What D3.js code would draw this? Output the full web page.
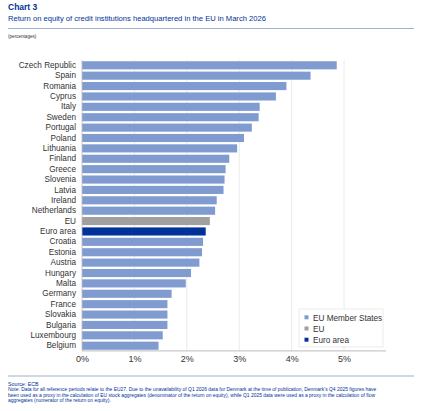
<!DOCTYPE html>
<html><head><meta charset="utf-8">
<script src="https://cdn.jsdelivr.net/npm/d3@7/dist/d3.min.js"></script>
<style>body{margin:0;background:#fff}svg{display:block;font-family:"Liberation Sans",Arial,sans-serif}</style>
</head><body><div id="c"></div>
<script>
const categories = ["Czech Republic","Spain","Romania","Cyprus","Italy","Sweden","Portugal","Poland","Lithuania","Finland","Greece","Slovenia","Latvia","Ireland","Netherlands","EU","Euro area","Croatia","Estonia","Austria","Hungary","Malta","Germany","France","Slovakia","Bulgaria","Luxembourg","Belgium"];
const values = [4.86,4.36,3.90,3.70,3.39,3.37,3.24,3.09,2.96,2.81,2.74,2.72,2.70,2.57,2.54,2.44,2.36,2.31,2.29,2.24,2.08,1.98,1.71,1.63,1.63,1.63,1.54,1.46];
const groups = categories.map(c => c==="EU" ? "EU" : (c==="Euro area" ? "Euro area" : "EU Member States"));
const legendLabels = ["EU Member States","EU","Euro area"];
const xTicks = [0,1,2,3,4,5];
const colors = {"EU Member States":"#7f9bd0","EU":"#a0a0a0","Euro area":"#003299"};

const W=422,H=411;
const svg=d3.select("#c").append("svg").attr("width",W).attr("height",H);

svg.append("text").attr("x",8).attr("y",10).attr("font-size",8.5).attr("font-weight","bold").attr("fill","#003299").text("Chart 3");
svg.append("text").attr("x",8).attr("y",21).attr("font-size",7.6).attr("fill","#003299").text("Return on equity of credit institutions headquartered in the EU in March 2026");
svg.append("line").attr("x1",8).attr("x2",414).attr("y1",28.5).attr("y2",28.5).attr("stroke","#9fb0d0").attr("stroke-width",1);
svg.append("text").attr("x",8).attr("y",37.5).attr("font-size",4.6).attr("fill","#333").text("(percentages)");

const x=d3.scaleLinear().domain([0,5.8]).range([82,386]);
const y=d3.scaleBand().domain(categories).range([60.1,350.9]).paddingInner(0.22).paddingOuter(0.11);

const g=svg.append("g");
g.selectAll(".grid").data(xTicks.filter(t=>t>0)).enter().append("line")
 .attr("x1",d=>x(d)).attr("x2",d=>x(d)).attr("y1",60).attr("y2",350.9)
 .attr("stroke","#e4e4e4").attr("stroke-width",0.8);

g.selectAll(".bar").data(categories).enter().append("rect")
 .attr("x",x(0)).attr("y",d=>y(d)).attr("height",y.bandwidth())
 .attr("width",(d,i)=>x(values[i])-x(0))
 .attr("fill",(d,i)=>colors[groups[i]]);

g.append("line").attr("x1",x(0)).attr("x2",x(0)).attr("y1",60).attr("y2",350.9).attr("stroke","#bbb").attr("stroke-width",0.8);
g.append("line").attr("x1",x(0)).attr("x2",386).attr("y1",350.9).attr("y2",350.9).attr("stroke","#aaa").attr("stroke-width",0.8);

const yAxis=d3.axisLeft(y).tickSize(0).tickPadding(6);
const ya=svg.append("g").attr("transform",`translate(${x(0)},0)`).call(yAxis);
ya.select(".domain").remove();
ya.selectAll("text").attr("font-size",8.2).attr("fill","#333").attr("font-family","Liberation Sans, Arial, sans-serif");

const xAxis=d3.axisBottom(x).tickValues(xTicks).tickFormat(d=>d+"%").tickSize(0).tickPadding(5);
const xa=svg.append("g").attr("transform","translate(0,351)").call(xAxis);
xa.select(".domain").remove();
xa.selectAll("text").attr("font-size",9).attr("fill","#333").attr("font-family","Liberation Sans, Arial, sans-serif");

const lg=svg.append("g");
lg.append("rect").attr("x",299).attr("y",309).attr("width",84).attr("height",38).attr("fill","#fff").attr("stroke","#e6e6e6").attr("stroke-width",0.8);
legendLabels.forEach((l,i)=>{
  const yy=317.5+i*11.2;
  lg.append("rect").attr("x",304.5).attr("y",yy-2.2).attr("width",4).attr("height",4).attr("fill",colors[l]);
  lg.append("text").attr("x",313).attr("y",yy+3).attr("font-size",8.2).attr("fill","#333").text(l);
});

svg.append("line").attr("x1",8).attr("x2",414).attr("y1",376).attr("y2",376).attr("stroke","#9fb0d0").attr("stroke-width",1);
const notes=["Source: ECB",
"Note: Data for all reference periods relate to the EU27. Due to the unavailability of Q1 2026 data for Denmark at the time of publication, Denmark’s Q4 2025 figures have",
"been used as a proxy in the calculation of EU stock aggregates (denominator of the return on equity), while Q1 2025 data were used as a proxy in the calculation of flow",
"aggregates (numerator of the return on equity)."];
notes.forEach((t,i)=>{
  svg.append("text").attr("x",8).attr("y",386+i*5.4).attr("font-size",i===0?5.3:4.95).attr("fill","#003299").text(t);
});
</script></body></html>
